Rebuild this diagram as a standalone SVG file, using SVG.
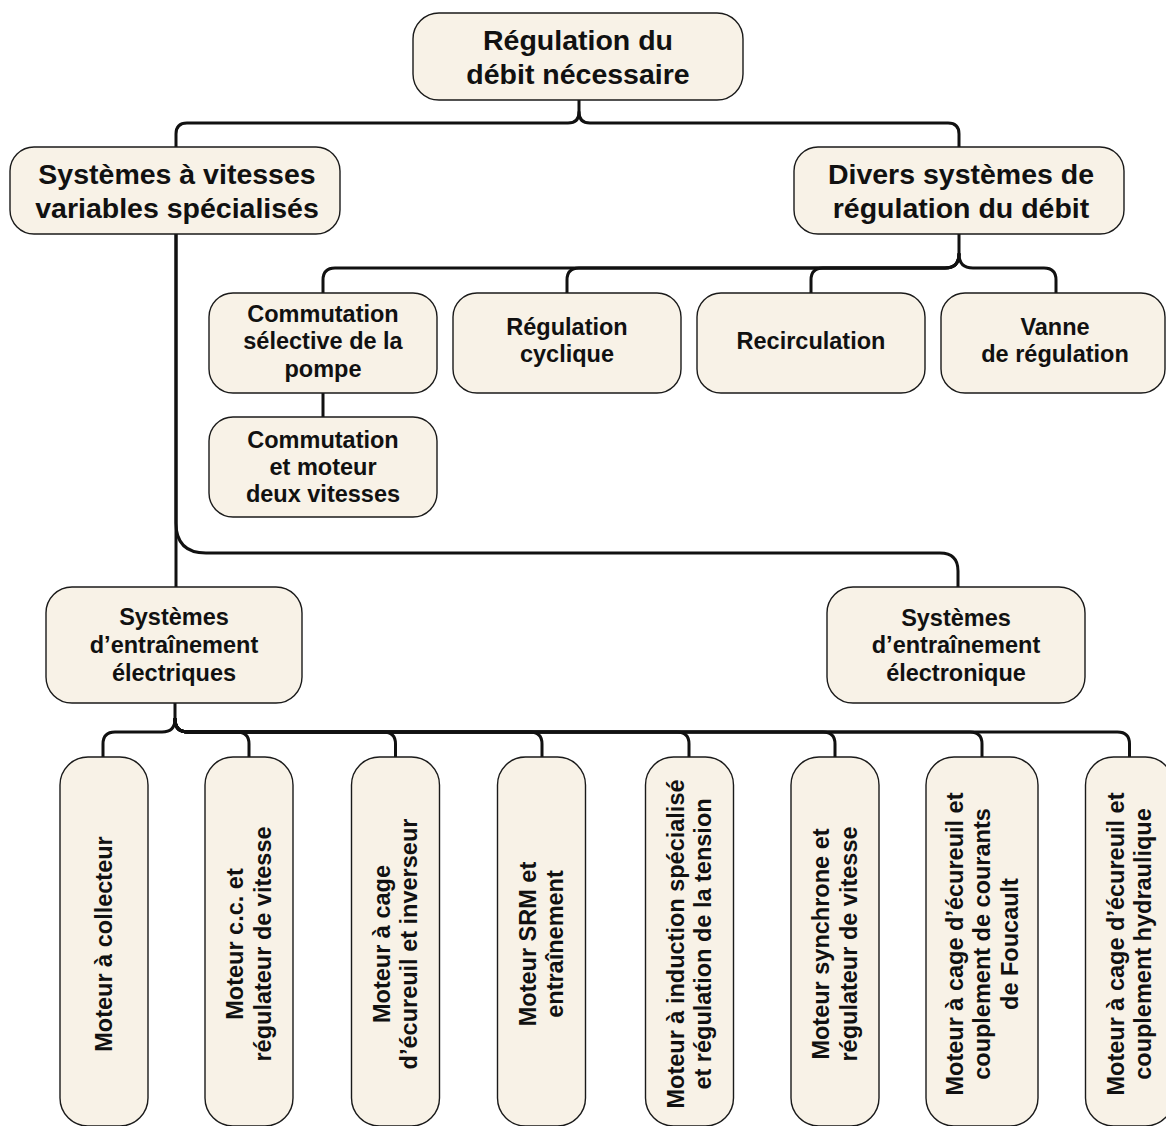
<svg xmlns="http://www.w3.org/2000/svg" width="1166" height="1126" viewBox="0 0 1166 1126">
<style>
.box{fill:#F8F2E7;stroke:#1a1a1a;stroke-width:1.4}
.t{font-family:"Liberation Sans",Arial,sans-serif;font-weight:bold;fill:#111;text-anchor:middle}
.big{font-size:28.5px}
.sm{font-size:23.5px}
.c{fill:none;stroke:#111;stroke-width:3;stroke-linejoin:round;stroke-linecap:round}
</style>
<rect width="1166" height="1126" fill="#fff"/>
<g id="connectors">
<path class="c" d="M579,100 V112 Q579,123 568,123 H187 Q176,123 176,134 V147"/>
<path class="c" d="M579,112 Q579,123 590,123 H948 Q959,123 959,134 V147"/>
<path class="c" d="M176,234 V587"/>
<path class="c" d="M176,234 V523 Q176,553 206,553 H940 Q958,553 958,571 V587"/>
<path class="c" d="M959,234 V254 Q959,268 945,268 H335 Q323,268 323,280 V293"/>
<path class="c" d="M959,254 Q959,268 945,268 H579 Q567,268 567,280 V293"/>
<path class="c" d="M959,254 Q959,268 945,268 H823 Q811,268 811,280 V293"/>
<path class="c" d="M959,254 Q959,268 973,268 H1044 Q1056,268 1056,280 V293"/>
<path class="c" d="M323,393 V417"/>
<path class="c" d="M175,703 V719 Q175,732 162,732 H115 Q103,732 103,744 V757"/>
<path class="c" d="M175,719 Q175,732 188,732 H237 Q249,732 249,744 V757"/>
<path class="c" d="M175,719 Q175,732 188,732 H383.5 Q395.5,732 395.5,744 V757"/>
<path class="c" d="M175,719 Q175,732 188,732 H530 Q542,732 542,744 V757"/>
<path class="c" d="M175,719 Q175,732 188,732 H677 Q689,732 689,744 V757"/>
<path class="c" d="M175,719 Q175,732 188,732 H823 Q835,732 835,744 V757"/>
<path class="c" d="M175,719 Q175,732 188,732 H970 Q982,732 982,744 V757"/>
<path class="c" d="M175,719 Q175,732 188,732 H1117.5 Q1129.5,732 1129.5,744 V757"/>
</g>
<g id="n-top">
<rect class="box" x="413" y="13" width="330" height="87" rx="26"/>
<text class="t big" x="578"><tspan x="578" y="50">Régulation du</tspan><tspan x="578" y="83.5">débit nécessaire</tspan></text>
</g>
<g id="n-vitesses">
<rect class="box" x="10" y="147" width="330" height="87" rx="24"/>
<text class="t big"><tspan x="177" y="184">Systèmes à vitesses</tspan><tspan x="177" y="217.5">variables spécialisés</tspan></text>
</g>
<g id="n-divers">
<rect class="box" x="794" y="147" width="330" height="87" rx="24"/>
<text class="t big"><tspan x="961" y="184">Divers systèmes de</tspan><tspan x="961" y="217.5">régulation du débit</tspan></text>
</g>
<g id="n-commutation">
<rect class="box" x="209" y="293" width="228" height="100" rx="24"/>
<text class="t sm"><tspan x="323" y="321.5">Commutation</tspan><tspan x="323" y="349">sélective de la</tspan><tspan x="323" y="376.5">pompe</tspan></text>
</g>
<g id="n-cyclique">
<rect class="box" x="453" y="293" width="228" height="100" rx="24"/>
<text class="t sm"><tspan x="567" y="335">Régulation</tspan><tspan x="567" y="362">cyclique</tspan></text>
</g>
<g id="n-recirculation">
<rect class="box" x="697" y="293" width="228" height="100" rx="24"/>
<text class="t sm" x="811" y="348.5">Recirculation</text>
</g>
<g id="n-vanne">
<rect class="box" x="941" y="293" width="224" height="100" rx="24"/>
<text class="t sm"><tspan x="1055" y="335">Vanne</tspan><tspan x="1055" y="362">de régulation</tspan></text>
</g>
<g id="n-deuxvitesses">
<rect class="box" x="209" y="417" width="228" height="100" rx="24"/>
<text class="t sm"><tspan x="323" y="447.5">Commutation</tspan><tspan x="323" y="475">et moteur</tspan><tspan x="323" y="502">deux vitesses</tspan></text>
</g>
<g id="n-electriques">
<rect class="box" x="46" y="587" width="256" height="116" rx="26"/>
<text class="t sm"><tspan x="174" y="625">Systèmes</tspan><tspan x="174" y="653">d’entraînement</tspan><tspan x="174" y="680.5">électriques</tspan></text>
</g>
<g id="n-electronique">
<rect class="box" x="827" y="587" width="258" height="116" rx="26"/>
<text class="t sm"><tspan x="956" y="625.5">Systèmes</tspan><tspan x="956" y="653">d’entraînement</tspan><tspan x="956" y="681">électronique</tspan></text>
</g>
<g id="n-m1">
<rect class="box" x="60" y="757" width="88" height="369" rx="28"/>
<text class="t sm" transform="translate(104,944) rotate(-90)" x="0" y="8">Moteur à collecteur</text>
</g>
<g id="n-m2">
<rect class="box" x="205" y="757" width="88" height="369" rx="28"/>
<text class="t sm" transform="translate(249,944) rotate(-90)"><tspan x="0" y="-5.75">Moteur c.c. et</tspan><tspan x="0" y="21.75">régulateur de vitesse</tspan></text>
</g>
<g id="n-m3">
<rect class="box" x="351.5" y="757" width="88" height="369" rx="28"/>
<text class="t sm" transform="translate(395.5,944) rotate(-90)"><tspan x="0" y="-5.75">Moteur à cage</tspan><tspan x="0" y="21.75">d’écureuil et inverseur</tspan></text>
</g>
<g id="n-m4">
<rect class="box" x="497.5" y="757" width="88" height="369" rx="28"/>
<text class="t sm" transform="translate(541.5,944) rotate(-90)"><tspan x="0" y="-5.75">Moteur SRM et</tspan><tspan x="0" y="21.75">entraînement</tspan></text>
</g>
<g id="n-m5">
<rect class="box" x="645.5" y="757" width="88" height="369" rx="28"/>
<text class="t sm" transform="translate(689.5,944) rotate(-90)"><tspan x="0" y="-5.75">Moteur à induction spécialisé</tspan><tspan x="0" y="21.75">et régulation de la tension</tspan></text>
</g>
<g id="n-m6">
<rect class="box" x="791" y="757" width="88" height="369" rx="28"/>
<text class="t sm" transform="translate(835,944) rotate(-90)"><tspan x="0" y="-5.75">Moteur synchrone et</tspan><tspan x="0" y="21.75">régulateur de vitesse</tspan></text>
</g>
<g id="n-m7">
<rect class="box" x="926" y="757" width="112" height="369" rx="28"/>
<text class="t sm" transform="translate(982,944) rotate(-90)"><tspan x="0" y="-19.5">Moteur à cage d’écureuil et</tspan><tspan x="0" y="8">couplement de courants</tspan><tspan x="0" y="35.5">de Foucault</tspan></text>
</g>
<g id="n-m8">
<rect class="box" x="1085.5" y="757" width="88" height="369" rx="28"/>
<text class="t sm" transform="translate(1129.5,944) rotate(-90)"><tspan x="0" y="-5.75">Moteur à cage d’écureuil et</tspan><tspan x="0" y="21.75">couplement hydraulique</tspan></text>
</g>
</svg>
